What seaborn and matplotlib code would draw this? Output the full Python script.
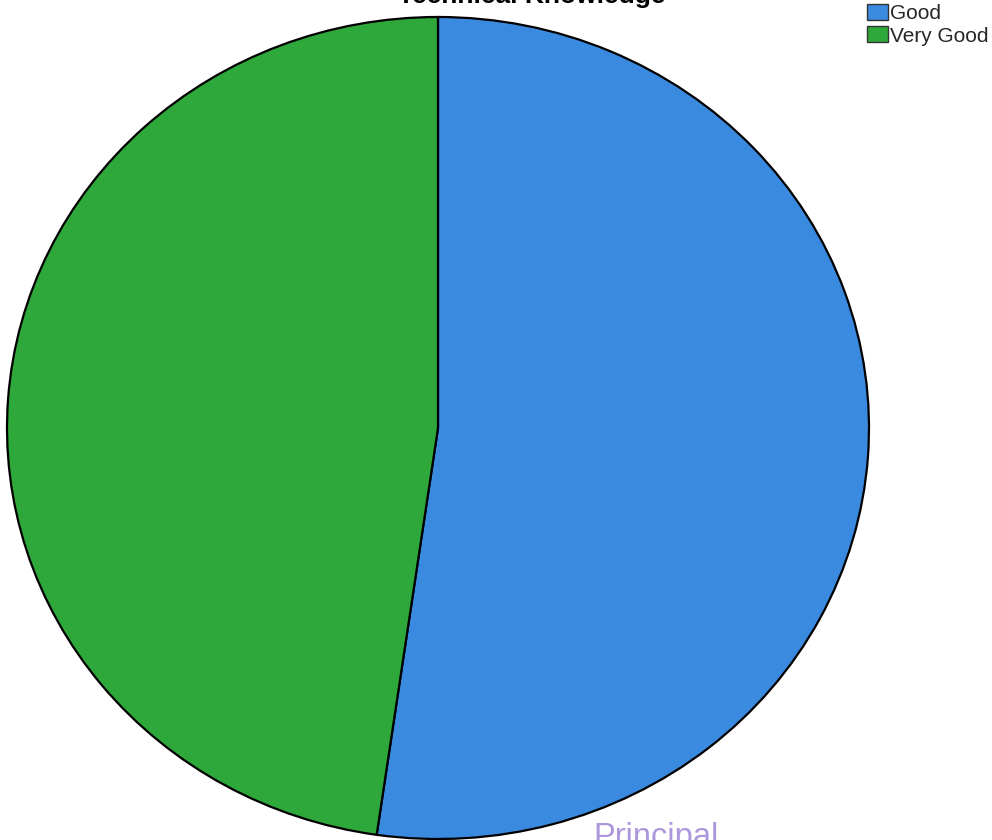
import seaborn as sns
import matplotlib.pyplot as plt
from matplotlib.patches import Patch

# data
labels = ['Good', 'Very Good']
counts = [23, 21]
colours = ['#3a8ae0', '#2ea83a']

sns.set_theme(style='white')
plt.rcParams['font.family'] = ['Liberation Sans', 'DejaVu Sans']

fig = plt.figure(figsize=(9.92, 8.4), dpi=100)
# axes box matches the (slightly squashed) ellipse of the scan
ax = fig.add_axes([7/992, 1/840, 862/992, 822/840])
ax.pie(counts, colors=colours, startangle=90, counterclock=False,
       wedgeprops=dict(edgecolor='black', linewidth=1.6))
ax.set_aspect('auto')
ax.set_xlim(-1.0, 1.0)
ax.set_ylim(-1.0, 1.0)
ax.axis('off')

# title is cut off at the top edge in the reference
fig.text(398/992, 1 - 3/840, 'Technical Knowledge', ha='left', va='baseline',
         fontsize=19, fontweight='bold', color='black')

handles = [Patch(facecolor=c, edgecolor='#333333', label=l)
           for c, l in zip(colours, labels)]
fig.legend(handles=handles, loc='upper left', bbox_to_anchor=(867/992, 1 - 4/840),
           frameon=False, fontsize=15, handlelength=1.0, handleheight=0.8,
           handletextpad=0.1, borderaxespad=0, borderpad=0, labelspacing=0.15)

# stamp text at the bottom, also cut off
fig.text(593/992, 1 - 822/840, 'Principal', ha='left', va='top',
         fontsize=23.5, color='#ad97dc')

fig.savefig('out.png', dpi=100)
